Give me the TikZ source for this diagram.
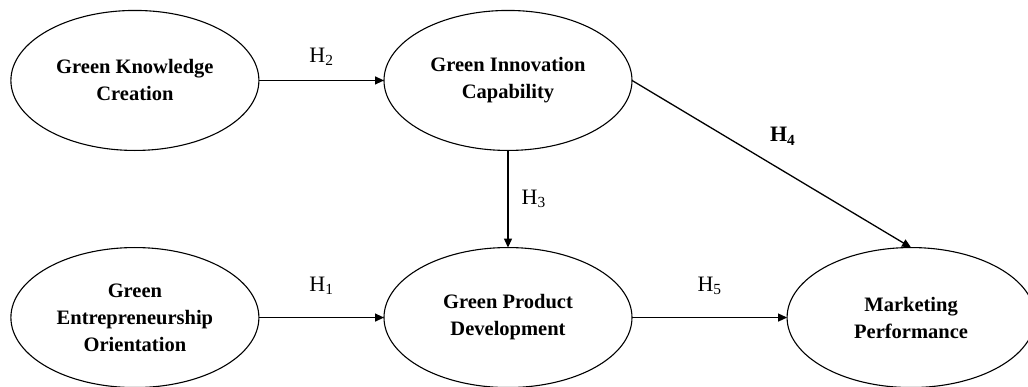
\documentclass[tikz,border=0pt]{standalone}
\usepackage{fontspec}
\setmainfont{Liberation Serif}
\usetikzlibrary{matrix,arrows.meta,shapes.geometric}

\begin{document}
\begin{tikzpicture}[x=1pt,y=-1pt,
		construct/.style={ellipse,draw,line width=1.1pt,minimum width=248pt,minimum height=140pt,
			inner sep=0pt,outer sep=0pt,align=center,font=\fontsize{20.5}{27}\selectfont\bfseries},
		hyp/.style={inner sep=0pt,font=\fontsize{22}{24}\selectfont}]
	\useasboundingbox (0,0) rectangle (1028,387);
	\matrix (m) [row sep=96pt, column sep=124pt, inner sep=0pt] at (523,199)
	{
		\node[construct] (gkc) {Green Knowledge\\Creation}; &
		\node[construct] (gic) {Green Innovation\\Capability}; &[30pt] \\
		\node[construct] (geo) {Green\\Entrepreneurship\\Orientation}; &
		\node[construct] (gpd) {Green Product\\Development}; &
		\node[construct] (mp) {Marketing\\Performance}; \\
	};
	\path[-{Triangle[length=9pt,width=8pt]},line width=1.3pt]
	(gkc) edge node[hyp,above=14pt]{H\textsubscript{2}} (gic)
	(gic) edge node[hyp,right=13pt]{H\textsubscript{3}} (gpd)
	(gic.east) edge node[hyp,pos=0.54,above=25pt]{\textbf{H\textsubscript{4}}} (mp.north)
	(geo) edge node[hyp,above=22pt]{H\textsubscript{1}} (gpd)
	(gpd) edge node[hyp,above=22pt]{H\textsubscript{5}} (mp);
\end{tikzpicture}
\end{document}
